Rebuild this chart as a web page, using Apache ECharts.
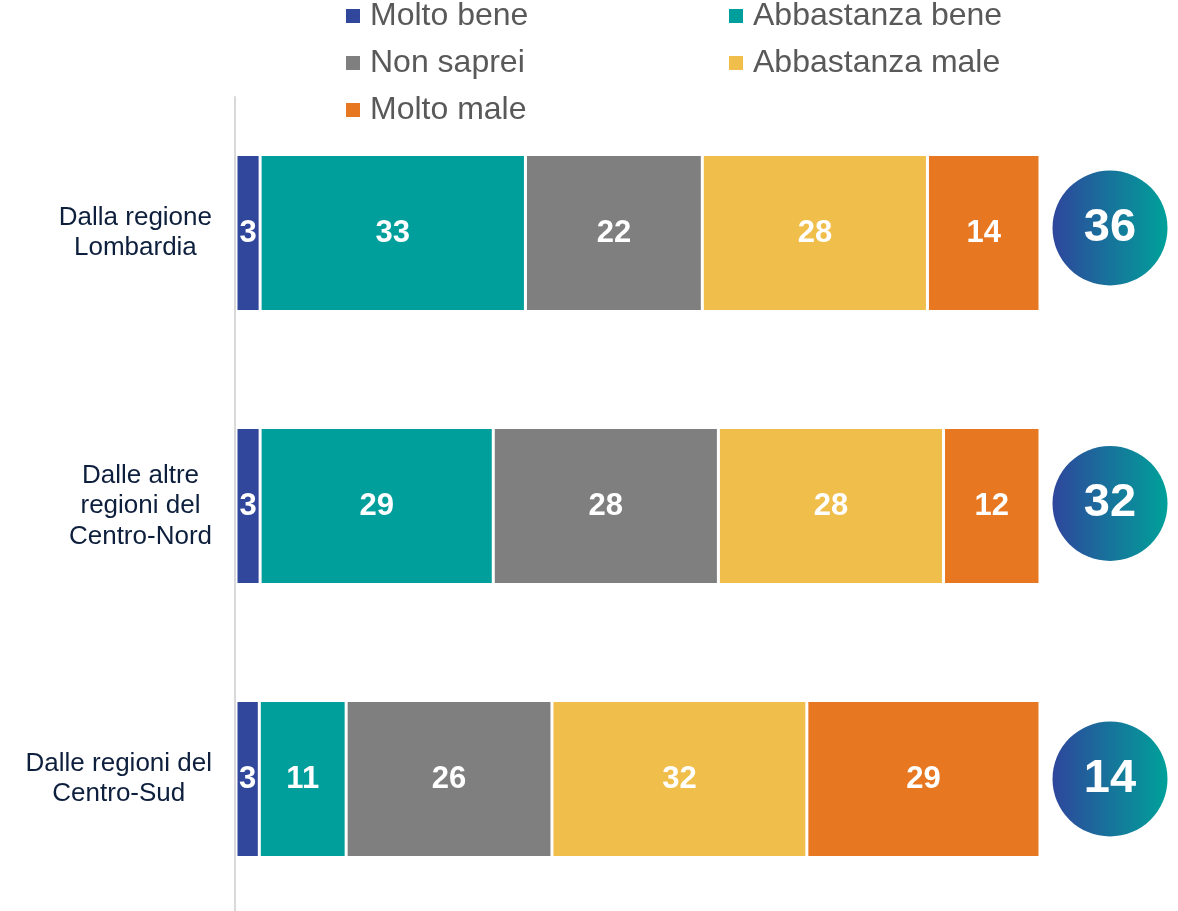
<!DOCTYPE html>
<html><head><meta charset="utf-8">
<script src="https://cdn.jsdelivr.net/npm/echarts@6/dist/echarts.min.js"></script>
<style>html,body{margin:0;padding:0;background:#fff}#c{width:1178px;height:911px}</style>
</head><body><div id="c"></div>
<script>
const categories = ['Dalla regione\nLombardia', 'Dalle altre\nregioni del\nCentro-Nord', 'Dalle regioni del\nCentro-Sud'];
const seriesNames = ['Molto bene', 'Abbastanza bene', 'Non saprei', 'Abbastanza male', 'Molto male'];
const moltoBene = [3, 3, 2.9];
const abbastanzaBene = [33, 29, 10.8];
const nonSaprei = [22, 28, 25.6];
const abbastanzaMale = [28, 28, 31.7];
const moltoMale = [14, 12, 29];
const netPositive = [36, 32, 14];
const colors = ['#30479B', '#009F9C', '#7F7F7F', '#F0BE4B', '#E77821'];

const FONT = '"Liberation Sans", Arial, sans-serif';
const values = [moltoBene, abbastanzaBene, nonSaprei, abbastanzaMale, moltoMale];

const chart = echarts.init(document.getElementById('c'));
const barSeries = seriesNames.map((name, i) => ({
  name, type: 'bar', stack: 'total', barWidth: 157, clip: false,
  xAxisIndex: 0, yAxisIndex: 0,
  data: values[i],
  itemStyle: { color: colors[i], borderColor: '#fff', borderWidth: 1.5 },
  label: {
    show: true, position: 'inside', color: '#fff', fontWeight: 'bold',
    fontSize: 31, fontFamily: FONT,
    formatter: p => Math.round(p.value)
  },
  emphasis: { disabled: true }
}));

const legendCommon = {
  orient: 'vertical', top: 0, padding: 0, itemWidth: 14, itemHeight: 14, itemGap: 15,
  icon: 'rect',
  itemStyle: { borderWidth: 0 },
  textStyle: { fontSize: 32, lineHeight: 32, color: '#595959', fontFamily: FONT, padding: [0, 0, 0, 5] }
};

chart.setOption({
  animation: false,
  textStyle: { fontFamily: FONT },
  legend: [
    Object.assign({}, legendCommon, { left: 346, data: ['Molto bene', 'Non saprei', 'Molto male'] }),
    Object.assign({}, legendCommon, { left: 729, data: ['Abbastanza bene', 'Abbastanza male'] })
  ],
  grid: [
    { left: 236, right: 138, top: 233, height: 546 },
    { left: 1052, width: 116, top: 228, height: 551 },
    { left: 235, right: 138, top: 97, bottom: 0 }
  ],
  xAxis: [
    { gridIndex: 0, type: 'value', min: 0, max: 100, show: false },
    { gridIndex: 1, type: 'value', min: 0, max: 1, show: false },
    { gridIndex: 2, type: 'value', min: 0, max: 100, show: false }
  ],
  yAxis: [
    {
      gridIndex: 0, type: 'category', inverse: true, data: categories, boundaryGap: false,
      axisLine: { show: false },
      axisTick: { show: false },
      splitLine: { show: false },
      axisLabel: {
        interval: 0,
        margin: 24, align: 'right', fontSize: 26, color: '#0D1F3C', fontFamily: FONT,
        lineHeight: 30.5,
        formatter: v => v.split('\n').map(l => '{c|' + l + '}').join('\n'),
        rich: { c: { align: 'center', fontSize: 26, color: '#0D1F3C', fontFamily: FONT, lineHeight: 30.5 } }
      }
    },
    { gridIndex: 1, type: 'category', inverse: true, data: categories, boundaryGap: false, show: false },
    {
      gridIndex: 2, type: 'category', data: [''],
      axisLine: { show: true, lineStyle: { color: '#D9D9D9', width: 2 } },
      axisTick: { show: false }, axisLabel: { show: false }, splitLine: { show: false }
    }
  ],
  series: barSeries.concat([{
    type: 'scatter', xAxisIndex: 1, yAxisIndex: 1, symbol: 'circle', symbolSize: 115, clip: false,
    data: netPositive.map((v, i) => ({ value: [0.5, i], net: v })),
    itemStyle: {
      opacity: 1,
      color: new echarts.graphic.LinearGradient(0, 0, 1, 0, [
        { offset: 0, color: '#2E469C' }, { offset: 1, color: '#00A19A' }
      ])
    },
    label: {
      show: true, position: 'inside', color: '#fff', fontWeight: 'bold', fontSize: 47,
      fontFamily: FONT, formatter: p => p.data.net
    },
    emphasis: { disabled: true }
  }])
});
</script></body></html>
